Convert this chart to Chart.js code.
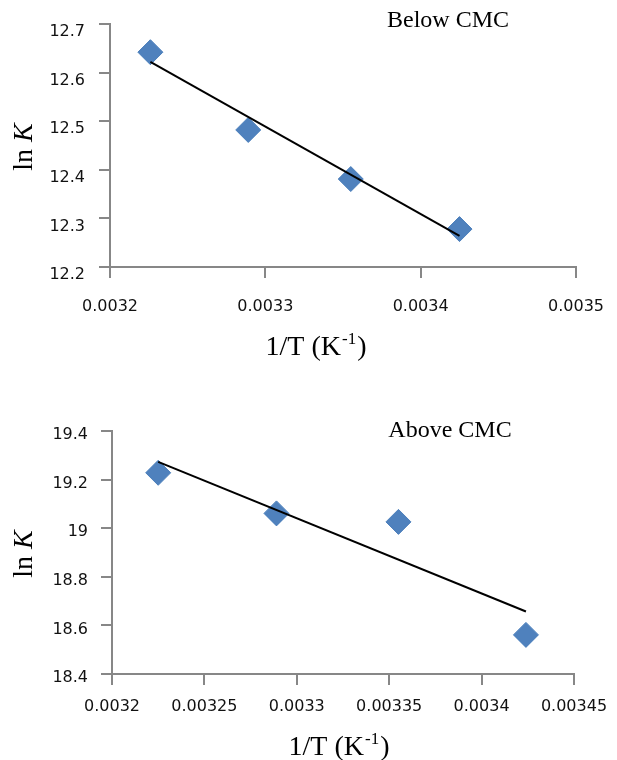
<!DOCTYPE html>
<html>
<head>
<meta charset="utf-8">
<script src="https://cdn.jsdelivr.net/npm/chart.js@4.4.1/dist/chart.umd.min.js"></script>
<style>
  body { margin: 0; background: #fff; }
  .box { position: absolute; left: 0; width: 617px; height: 380px; }
</style>
</head>
<body>
<div class="box" style="top:0"><canvas id="below"></canvas></div>
<div class="box" style="top:380px"><canvas id="above"></canvas></div>
<script>
// Below CMC
const belowX = [0.003226, 0.003289, 0.003355, 0.003425];
const belowY = [12.642, 12.482, 12.381, 12.278];
const belowTrendX = [0.003226, 0.003425];
const belowTrendY = [12.622, 12.264];
const belowXTicks = [0.0032, 0.0033, 0.0034, 0.0035];
const belowXLabels = ['0.0032', '0.0033', '0.0034', '0.0035'];
const belowYTicks = [12.2, 12.3, 12.4, 12.5, 12.6, 12.7];
const belowYLabels = ['12.2', '12.3', '12.4', '12.5', '12.6', '12.7'];

// Above CMC
const aboveX = [0.003225, 0.003289, 0.003355, 0.003424];
const aboveY = [19.228, 19.061, 19.026, 18.561];
const aboveTrendX = [0.003225, 0.003424];
const aboveTrendY = [19.273, 18.657];
const aboveXTicks = [0.0032, 0.00325, 0.0033, 0.00335, 0.0034, 0.00345];
const aboveXLabels = ['0.0032', '0.00325', '0.0033', '0.00335', '0.0034', '0.00345'];
const aboveYTicks = [18.4, 18.6, 18.8, 19, 19.2, 19.4];
const aboveYLabels = ['18.4', '18.6', '18.8', '19', '19.2', '19.4'];

const axisGrey = '#878787';
const markerBlue = '#4F81BD';
const serif = '"Liberation Serif", "Times New Roman", serif';

// note, lnK and 1/T (K-1) are drawn by hand so the K can be italic and the -1 raised
const textPlugin = {
  id: 'texts',
  afterDraw(chart, args, o) {
    const ctx = chart.ctx;
    ctx.save();
    ctx.fillStyle = '#000';
    ctx.textBaseline = 'alphabetic';

    ctx.font = '24px ' + serif;
    ctx.textAlign = 'center';
    ctx.fillText(o.note, o.noteX, o.noteY);

    // y title, rotated
    ctx.save();
    ctx.translate(o.yTitleX, o.yTitleY);
    ctx.rotate(-Math.PI / 2);
    ctx.textAlign = 'left';
    ctx.font = '28px ' + serif;
    const ln = 'ln ';
    const lnW = ctx.measureText(ln).width;
    ctx.font = 'italic 28px ' + serif;
    const kW = ctx.measureText('K').width;
    let sx = -(lnW + kW) / 2;
    ctx.font = '28px ' + serif;
    ctx.fillText(ln, sx, 0);
    ctx.font = 'italic 28px ' + serif;
    ctx.fillText('K', sx + lnW, 0);
    ctx.restore();

    // x title with superscript
    ctx.textAlign = 'left';
    ctx.font = '28px ' + serif;
    const a = '1/T (K', c = ')';
    const aW = ctx.measureText(a).width;
    const cW = ctx.measureText(c).width;
    ctx.font = '17px ' + serif;
    const sup = '-1';
    const bW = ctx.measureText(sup).width;
    let x = o.xTitleX - (aW + bW + cW) / 2;
    ctx.font = '28px ' + serif;
    ctx.fillText(a, x, o.xTitleY);
    ctx.font = '17px ' + serif;
    ctx.fillText(sup, x + aW + 1, o.xTitleY - 11);
    ctx.font = '28px ' + serif;
    ctx.fillText(c, x + aW + bW + 2, o.xTitleY);
    ctx.restore();
  }
};

function makeChart(id, s) {
  const points = s.xs.map((v, i) => ({ x: v, y: s.ys[i] }));
  const trend = s.tx.map((v, i) => ({ x: v, y: s.ty[i] }));
  return new Chart(document.getElementById(id), {
    type: 'scatter',
    data: {
      datasets: [
        {
          data: trend,
          showLine: true,
          borderColor: '#000',
          borderWidth: 2,
          pointRadius: 0,
          order: 0
        },
        {
          data: points,
          pointStyle: 'rectRot',
          pointRadius: 12.5,
          backgroundColor: markerBlue,
          borderColor: '#4A7EBB',
          borderWidth: 1,
          order: 1
        }
      ]
    },
    options: {
      responsive: true,
      maintainAspectRatio: false,
      animation: false,
      layout: { padding: { left: 0, top: s.top, right: s.right, bottom: 0 } },
      plugins: {
        legend: { display: false },
        tooltip: { enabled: false },
        texts: s.texts
      },
      scales: {
        x: {
          type: 'linear',
          min: s.xTicks[0],
          max: s.xTicks[s.xTicks.length - 1],
          afterBuildTicks: sc => { sc.ticks = s.xTicks.map(v => ({ value: v })); },
          afterFit: sc => {
            sc.height = s.xH;
            // the label overhang is already covered by the layout padding
            sc.paddingLeft = 0;
            sc.paddingRight = 0;
          },
          ticks: {
            callback: (v, i) => s.xLabels[i],
            font: { family: 'DejaVu Sans', size: 16 },
            color: '#111',
            padding: s.xPad,
            maxRotation: 0,
            autoSkip: false
          },
          grid: { drawOnChartArea: false, tickLength: 11, color: axisGrey, lineWidth: 2 },
          border: { color: axisGrey, width: 2 }
        },
        y: {
          type: 'linear',
          min: s.yTicks[0],
          max: s.yTicks[s.yTicks.length - 1],
          afterBuildTicks: sc => { sc.ticks = s.yTicks.map(v => ({ value: v })); },
          afterFit: sc => {
            sc.width = s.yW;
            sc.paddingTop = 0;
            sc.paddingBottom = 0;
          },
          ticks: {
            callback: (v, i) => s.yLabels[i],
            font: { family: 'DejaVu Sans', size: 16 },
            color: '#111',
            padding: s.yPad,
            labelOffset: s.yOff,
            autoSkip: false
          },
          grid: { drawOnChartArea: false, tickLength: 11, color: axisGrey, lineWidth: 2 },
          border: { color: axisGrey, width: 2 }
        }
      }
    },
    plugins: [textPlugin]
  });
}

makeChart('below', {
  xs: belowX, ys: belowY, tx: belowTrendX, ty: belowTrendY,
  xTicks: belowXTicks, xLabels: belowXLabels, yTicks: belowYTicks, yLabels: belowYLabels,
  top: 24, right: 41, yW: 110, xH: 113, xPad: 19, yPad: 14, yOff: 8,
  texts: { note: 'Below CMC', noteX: 448, noteY: 27, yTitleX: 32, yTitleY: 147, xTitleX: 315, xTitleY: 355 }
});

makeChart('above', {
  xs: aboveX, ys: aboveY, tx: aboveTrendX, ty: aboveTrendY,
  xTicks: aboveXTicks, xLabels: aboveXLabels, yTicks: aboveYTicks, yLabels: aboveYLabels,
  top: 51, right: 43, yW: 112, xH: 86, xPad: 12, yPad: 13, yOff: 4,
  texts: { note: 'Above CMC', noteX: 450, noteY: 57, yTitleX: 32, yTitleY: 174, xTitleX: 338, xTitleY: 375 }
});
</script>
</body>
</html>
